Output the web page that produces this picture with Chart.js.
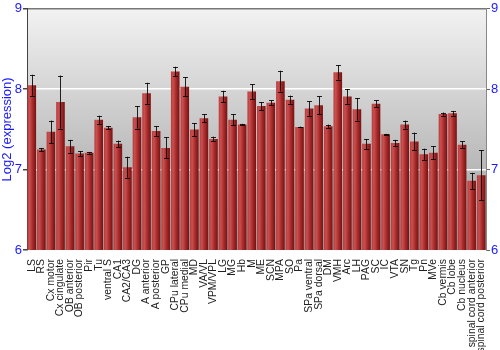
<!DOCTYPE html>
<html>
<head>
<meta charset="utf-8">
<script src="https://cdn.jsdelivr.net/npm/chart.js@4"></script>
<style>
  html, body { margin: 0; padding: 0; background: #fff; }
  #wrap { width: 500px; height: 350px; }
</style>
</head>
<body>
<div id="wrap"><canvas id="myChart" width="500" height="350"></canvas></div>
<script>
'use strict';

// ** DATA **

let regions = ['LS', 'RS', 'Cx motor', 'Cx cingulate', 'OB anterior', 'OB posterior', 'Pir', 'Tu',
  'ventral S', 'CA1', 'CA2/CA3', 'DG', 'A anterior', 'A posterior', 'GP', 'CPu lateral',
  'CPu medial', 'MD', 'VA/VL', 'VPM/VPL', 'LG', 'MG', 'Hb', 'M', 'ME', 'SCN', 'MPA', 'SO',
  'Pa', 'SPa ventral', 'SPa dorsal', 'DM', 'VMH', 'Arc', 'LH', 'PAG', 'SC', 'IC', 'VTA', 'SN',
  'Tg', 'Pn', 'MVe', 'Cb vermis', 'Cb lobe', 'Cb nucleus', 'spinal cord anterior',
  'spinal cord posterior'];

let expression = [8.05, 7.25, 7.47, 7.84, 7.29, 7.20, 7.21, 7.62,
  7.52, 7.32, 7.03, 7.65, 7.95, 7.48, 7.27, 8.22,
  8.03, 7.50, 7.64, 7.38, 7.91, 7.62, 7.56, 7.97, 7.79, 7.83, 8.10, 7.87,
  7.53, 7.76, 7.80, 7.54, 8.21, 7.91, 7.75, 7.32, 7.82, 7.44, 7.33, 7.56,
  7.35, 7.19, 7.21, 7.69, 7.70, 7.31, 6.86,
  6.93];

let errors = [0.13, 0.02, 0.14, 0.33, 0.08, 0.03, 0.01, 0.05,
  0.02, 0.04, 0.13, 0.14, 0.13, 0.06, 0.13, 0.06,
  0.12, 0.08, 0.05, 0.03, 0.07, 0.07, 0.01, 0.09, 0.05, 0.03, 0.13, 0.05,
  0.005, 0.09, 0.11, 0.02, 0.09, 0.09, 0.14, 0.06, 0.04, 0.005, 0.04, 0.05,
  0.11, 0.07, 0.08, 0.02, 0.03, 0.04, 0.10,
  0.31];

let yTicks = [6, 7, 8, 9];

// ** PLUGINS **

// gray gradient behind the plot area
const plotBackground = {
  id: 'plotBackground',
  beforeDraw(chart) {
    const { ctx, chartArea } = chart;
    let grad = ctx.createLinearGradient(0, chartArea.top, 0, chartArea.bottom);
    grad.addColorStop(0, '#f2f2f2');
    grad.addColorStop(1, '#9a9a9a');
    ctx.save();
    ctx.fillStyle = grad;
    ctx.fillRect(chartArea.left, chartArea.top, chartArea.right - chartArea.left, chartArea.bottom - chartArea.top);
    ctx.restore();
  }
};

// shaded red bars, left light to right dark
const barShading = {
  id: 'barShading',
  beforeDatasetsDraw(chart) {
    const ctx = chart.ctx;
    let meta = chart.getDatasetMeta(0);
    meta.data.forEach(function (bar) {
      let left = bar.x - bar.width / 2;
      let right = bar.x + bar.width / 2;
      let grad = ctx.createLinearGradient(left, 0, right, 0);
      grad.addColorStop(0, '#b83a3a');
      grad.addColorStop(0.25, '#c95050');
      grad.addColorStop(0.6, '#a82a2a');
      grad.addColorStop(1, '#741212');
      bar.options.backgroundColor = grad;
    });
  }
};

// error bars from the errors array
const errorBars = {
  id: 'errorBars',
  afterDatasetsDraw(chart) {
    const ctx = chart.ctx;
    let meta = chart.getDatasetMeta(0);
    let yScale = chart.scales.y;
    ctx.save();
    ctx.strokeStyle = 'rgba(0,0,0,0.85)';
    ctx.lineWidth = 1;
    meta.data.forEach(function (bar, i) {
      let x = Math.round(bar.x) + 0.5;
      let top = yScale.getPixelForValue(expression[i] + errors[i]);
      let bottom = yScale.getPixelForValue(expression[i] - errors[i]);
      ctx.beginPath();
      ctx.moveTo(x, top);
      ctx.lineTo(x, bottom);
      ctx.moveTo(x - 2.5, Math.round(top) + 0.5);
      ctx.lineTo(x + 2.5, Math.round(top) + 0.5);
      ctx.moveTo(x - 2.5, Math.round(bottom) + 0.5);
      ctx.lineTo(x + 2.5, Math.round(bottom) + 0.5);
      ctx.stroke();
    });
    ctx.restore();
  }
};

// ** CHART **

const canvas = document.getElementById('myChart');

function gridColor(context) {
  let v = context.tick ? context.tick.value : null;
  if (v === 9) return '#777777';
  if (v === 7 || v === 8) return '#ffffff';
  return 'rgba(0,0,0,0)';
}

let tickFont = { family: 'Arial, "Liberation Sans", sans-serif', size: 13 };

let myChartObj = {
  type: 'bar',
  data: {
    labels: regions,
    datasets: [{
      label: 'Log2 (expression)',
      data: expression,
      backgroundColor: function () { return '#a82a2a'; },
      borderWidth: 0,
      barPercentage: 0.9,
      categoryPercentage: 1.0
    }]
  },
  plugins: [plotBackground, barShading, errorBars],
  options: {
    responsive: false,
    animation: false,
    events: [],
    layout: { padding: 0 },
    plugins: {
      legend: { display: false },
      tooltip: { enabled: false }
    },
    scales: {
      x: {
        grid: { display: false },
        border: { display: false },
        ticks: {
          autoSkip: false,
          minRotation: 90,
          maxRotation: 90,
          padding: 1,
          color: '#222222',
          font: { family: 'Arial, "Liberation Sans", sans-serif', size: 10.4 }
        },
        afterFit: function (scale) { scale.height = 100; }
      },
      y: {
        position: 'left',
        min: 6,
        max: 9,
        afterBuildTicks: function (scale) {
          scale.ticks = yTicks.map(function (v) { return { value: v }; });
        },
        grid: { color: gridColor, tickColor: '#444444', tickLength: 4, lineWidth: 1.5 },
        border: { display: true, color: '#444444' },
        ticks: { color: '#1a1aff', padding: 1, font: tickFont },
        title: {
          display: true,
          text: 'Log2 (expression)',
          color: '#1a1aff',
          padding: 0,
          font: tickFont
        },
        afterFit: function (scale) { scale.width = 27; }
      },
      y2: {
        position: 'right',
        min: 6,
        max: 9,
        afterBuildTicks: function (scale) {
          scale.ticks = yTicks.map(function (v) { return { value: v }; });
        },
        grid: { drawOnChartArea: false, tickColor: '#666666', tickLength: 4 },
        border: { display: true, color: '#888888' },
        ticks: { color: '#1a1aff', padding: 1, font: tickFont },
        afterFit: function (scale) { scale.width = 14; }
      }
    }
  }
};

new Chart(canvas, myChartObj);
</script>
</body>
</html>
